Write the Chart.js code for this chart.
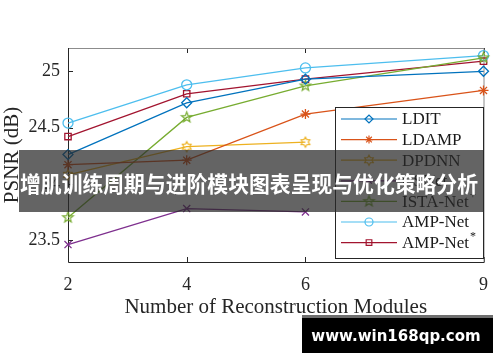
<!DOCTYPE html>
<html>
<head>
<meta charset="utf-8">
<script src="https://cdn.jsdelivr.net/npm/chart.js@4.4.1/dist/chart.umd.min.js"></script>
<style>
  html, body { margin: 0; padding: 0; background: #fff; }
  .container { width: 500px; height: 362px; }
</style>
</head>
<body>
<div class="container"><canvas id="myChart" width="500" height="362"></canvas></div>
<script>
const modules = [2, 4, 6, 9];
const xTicks = [2, 4, 6, 9];
const yTicks = [23.5, 24, 24.5, 25];

const ldit = [24.26, 24.72, 24.93, 25.00];
const ldamp = [24.17, 24.21, 24.62, 24.83];
const dpdnn = [24.08, 24.33, 24.37];
const csnet = [23.46, 23.78, 23.75];
const istaNet = [23.70, 24.59, 24.87, 25.12];
const ampNet = [24.54, 24.88, 25.03, 25.14];
const ampNetStar = [24.42, 24.80, 24.93, 25.09];

const names = ['LDIT', 'LDAMP', 'DPDNN', 'CSNet', 'ISTA-Net', 'AMP-Net', 'AMP-Net'];
const sups = ['', '', '', '', '+', '', '*'];
const colors = ['#0072BD', '#D95319', '#EDB120', '#7E2F8E', '#77AC30', '#4DBEEE', '#A2142F'];

const banner = '增肌训练周期与进阶模块图表呈现与优化策略分析';
const watermark = 'www.win168qp.com';

// star shaped markers (pentagram / hexagram) drawn on little canvases
function starImage(n, inner, color, r) {
  const c = document.createElement('canvas');
  const s = Math.ceil(r * 2 + 4);
  c.width = s; c.height = s;
  const g = c.getContext('2d');
  g.strokeStyle = color;
  g.lineWidth = 1.2;
  g.beginPath();
  for (let i = 0; i < n * 2; i++) {
    const a = -Math.PI / 2 + i * Math.PI / n;
    const rr = i % 2 === 0 ? r : r * inner;
    const px = s / 2 + rr * Math.cos(a), py = s / 2 + rr * Math.sin(a);
    if (i === 0) g.moveTo(px, py); else g.lineTo(px, py);
  }
  g.closePath();
  g.stroke();
  return c;
}

const styles = [
  'rectRot',
  'star',
  starImage(6, 0.58, colors[2], 5),
  'crossRot',
  starImage(5, 0.42, colors[4], 5.5),
  'circle',
  'rect'
];
const seriesList = [ldit, ldamp, dpdnn, csnet, istaNet, ampNet, ampNetStar];

const datasets = seriesList.map((vals, i) => ({
  label: names[i],
  data: vals.map((v, j) => ({ x: modules[j], y: v })),
  borderColor: colors[i],
  backgroundColor: 'rgba(0,0,0,0)',
  pointBorderColor: colors[i],
  pointBackgroundColor: 'rgba(0,0,0,0)',
  pointStyle: styles[i],
  pointRadius: i === 6 ? 4.5 : 5,
  pointBorderWidth: 1.3,
  borderWidth: 1.3,
  tension: 0,
  clip: false
}));

const framePlugin = {
  id: 'frame',
  beforeDatasetsDraw(chart) {
    const { ctx, chartArea: a, scales } = chart;
    ctx.save();
    ctx.lineWidth = 1;
    // inward ticks
    ctx.strokeStyle = '#262626';
    xTicks.forEach(v => {
      const px = Math.round(scales.x.getPixelForValue(v)) + 0.5;
      ctx.beginPath();
      ctx.moveTo(px, a.bottom); ctx.lineTo(px, a.bottom - 5);
      ctx.moveTo(px, a.top); ctx.lineTo(px, a.top + 5);
      ctx.stroke();
    });
    yTicks.forEach(v => {
      const py = Math.round(scales.y.getPixelForValue(v)) + 0.5;
      ctx.beginPath();
      ctx.moveTo(a.left, py); ctx.lineTo(a.left + 5, py);
      ctx.moveTo(a.right, py); ctx.lineTo(a.right - 5, py);
      ctx.stroke();
    });
    // box: top/right grey, left/bottom dark
    ctx.strokeStyle = '#8c8c8c';
    ctx.beginPath();
    ctx.moveTo(a.left, a.top + 0.5); ctx.lineTo(a.right + 0.5, a.top + 0.5); ctx.lineTo(a.right + 0.5, a.bottom);
    ctx.stroke();
    ctx.strokeStyle = '#262626';
    ctx.beginPath();
    ctx.moveTo(a.left + 0.5, a.top); ctx.lineTo(a.left + 0.5, a.bottom + 0.5); ctx.lineTo(a.right + 1, a.bottom + 0.5);
    ctx.stroke();
    ctx.restore();
  },
  afterDraw(chart) {
    const { ctx } = chart;
    ctx.save();
    // legend inside the axes
    const lx = 335, ly = 107, lw = 148, lh = 151;
    ctx.fillStyle = '#fff';
    ctx.fillRect(lx, ly, lw, lh);
    ctx.strokeStyle = '#262626';
    ctx.lineWidth = 1;
    ctx.strokeRect(lx + 0.5, ly + 0.5, lw, lh);
    chart.data.datasets.forEach((ds, i) => {
      const y = 119 + i * 20.6;
      ctx.strokeStyle = ds.borderColor;
      ctx.lineWidth = 1.2;
      ctx.beginPath();
      ctx.moveTo(341, y); ctx.lineTo(397, y);
      ctx.stroke();
      ctx.fillStyle = 'rgba(0,0,0,0)';
      Chart.helpers.drawPoint(ctx, {
        pointStyle: ds.pointStyle, radius: 4, rotation: 0, borderWidth: 1.2
      }, 369, y);
      ctx.fillStyle = '#1a1a1a';
      ctx.font = '17px "Liberation Serif"';
      ctx.textBaseline = 'middle';
      ctx.textAlign = 'left';
      ctx.fillText(ds.label, 402, y + 1);
      if (sups[i]) {
        const w = ctx.measureText(ds.label).width;
        ctx.font = '12px "Liberation Serif"';
        ctx.fillText(sups[i], 403 + w, y - 6);
      }
    });
    // overlay banner
    ctx.fillStyle = 'rgba(40,40,40,0.72)';
    ctx.fillRect(19, 150, 464, 62);
    ctx.fillStyle = '#fff';
    ctx.font = 'bold 22px "Noto Sans CJK SC"';
    ctx.textAlign = 'center';
    ctx.textBaseline = 'middle';
    ctx.fillText(banner, 249, 184, 458);
    // watermark
    ctx.fillStyle = '#6e6e6e';
    ctx.fillRect(302, 315, 191, 3);
    ctx.fillStyle = '#000';
    ctx.fillRect(302, 318, 191, 35);
    ctx.fillStyle = '#fff';
    ctx.font = 'bold 15px "DejaVu Sans"';
    ctx.fillText(watermark, 396, 337);
    ctx.restore();
  }
};

Chart.defaults.font.family = '"Liberation Serif"';
Chart.defaults.color = '#262626';

const ctx = document.getElementById('myChart');
const myChart = new Chart(ctx, {
  type: 'line',
  data: { datasets: datasets },
  options: {
    responsive: false,
    animation: false,
    layout: { padding: { top: 48, right: 12, left: 0, bottom: 0 } },
    plugins: { legend: { display: false }, tooltip: { enabled: false } },
    scales: {
      x: {
        type: 'linear',
        min: 2,
        max: 9,
        afterBuildTicks: scale => { scale.ticks = xTicks.map(v => ({ value: v })); },
        afterFit: scale => { scale.height = 100; },
        grid: { display: false, drawTicks: false },
        border: { display: false },
        ticks: { padding: 12, font: { size: 18 }, maxRotation: 0, callback: v => String(v) },
        title: { display: true, text: 'Number of Reconstruction Modules', font: { size: 21 }, padding: { top: 0, bottom: 42 } }
      },
      y: {
        type: 'linear',
        min: 23.305,
        max: 25.207,
        afterBuildTicks: scale => { scale.ticks = yTicks.map(v => ({ value: v })); },
        afterFit: scale => { scale.width = 68; },
        grid: { display: false, drawTicks: false },
        border: { display: false },
        ticks: { padding: 8, font: { size: 18 }, callback: v => String(v) },
        title: { display: true, text: 'PSNR (dB)', font: { size: 21 }, padding: { top: 0, bottom: 5 } }
      }
    }
  },
  plugins: [framePlugin]
});
</script>
</body>
</html>
